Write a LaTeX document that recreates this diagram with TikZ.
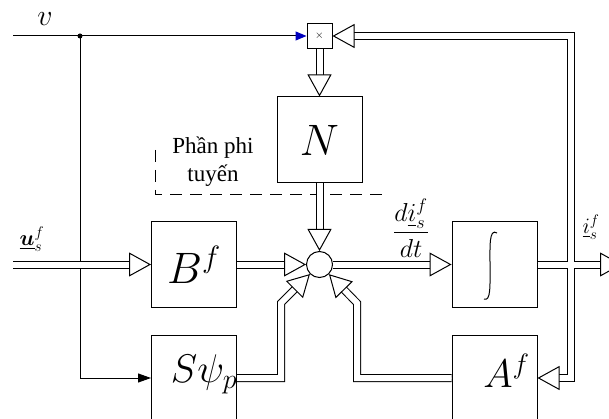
\RequirePackage{fix-cm}
\documentclass[tikz,border=0pt]{standalone}
\usepackage{amsmath}
\usepackage{bm}
\usepackage{fontspec}
\setmainfont{Liberation Serif}
\usepackage{tikz}
\usetikzlibrary{arrows.meta, positioning}

\tikzset{
  blk/.style={draw, minimum width=85pt, minimum height=86pt, inner sep=0pt, font=\fontsize{44}{44}\selectfont},
  blktxt/.style={font=\fontsize{40}{40}\selectfont},
  sumj/.style={draw, circle, minimum size=26pt, inner sep=0pt},
  shaft/.style={double, double distance=6pt, shorten >=20pt},
  head/.style={white, -{Triangle[length=22pt, width=24pt, color=black, fill=white]}},
  dout/.style={line width=8pt, black},
  din/.style={line width=6pt, white},
}
\newcommand{\dbl}[1]{\draw[shaft] #1; \draw[head] #1;}

\begin{document}
\begin{tikzpicture}[x=1pt, y=-1pt, line width=1pt]
    \useasboundingbox (0,0) rectangle (609,419);

    % Blocks
    \node[draw, minimum size=25pt, inner sep=0pt, font=\fontsize{11}{11}\selectfont] (mult) at (319.5,36) {$\times$};
    \node[blk] (N) at (319.5,140) {$N$};
    \node[blk] (B) at (194,264.5) {$B^f$};
    \node[blk, label={[blktxt, xshift=10pt, yshift=4pt]center:$S\psi_p$}] (Sp) at (194,378) {};
    \node[blk] (integ) at (494.5,264.5) {};
    \node[blk, label={[blktxt, xshift=12pt, yshift=7pt]center:$A^f$}] (A) at (494.5,378) {};
    \node[sumj] (sum) at (319.5,264.5) {};

    % Integral sign
    \draw (497,233) .. controls (489,228) and (490,246) .. (490,265)
          .. controls (490,285) and (491,302) .. (484,299);

    % Nonlinear part
    \draw[dash pattern=on 12pt off 8pt] (155,150) -- (155,195) -- (383,195);
    \node[align=center, font=\fontsize{23}{28}\selectfont] (nl) at (213,162) {Phần phi\\tuyến};

    % Labels
    \node[inner sep=0pt, font=\fontsize{30}{30}\selectfont] (v) at (45,19) {$v$};
    \node[inner sep=1pt, font=\fontsize{22}{22}\selectfont] (u) at (32,239) {$\underline{\bm{u}}_s^f$};
    \node[font=\fontsize{22}{22}\selectfont] (i) at (591,227) {$\underline{i}_s^f$};
    \node[font=\fontsize{26}{26}\selectfont] (didt) at (411,228) {$\dfrac{d\underline{i}_s^f}{dt}$};

    % Points
    \coordinate (vin) at (13,36);
    \coordinate (vs) at (80,36);
    \coordinate (uin) at (13,264.5);
    \coordinate (out) at (622,264.5);
    \coordinate (fbt) at (571,36);
    \coordinate (fbb) at (571,378);
    \coordinate (spc) at (281,303);
    \coordinate (apc) at (357,303);

    % Speed signal
    \draw[-{Triangle[length=11pt, width=9pt, color=blue!75!black]}] (vin) -- (mult.west);
    \fill (vs) circle (2.5pt);
    \draw[-{Triangle[length=13pt, width=9pt]}] (vs) |- (Sp.west);

    % Vector signals
    \dbl{(uin) -- (B.west)}
    \dbl{(mult.south) -- (N.north)}
    \dbl{(N.south) -- (sum)}
    \dbl{(B.east) -- (sum)}
    \dbl{(sum) -- (integ.west)}
    \dbl{(Sp.east) -| (spc) -- (sum)}
    \dbl{(A.west) -| (apc) -- (sum)}

    % Feedback of the current
    \draw[dout, shorten <=20pt, shorten >=20pt] (mult.east) -- (fbt) -- (fbb) -- (A.east);
    \draw[dout, shorten >=20pt] (integ.east) -- (out);
    \draw[din, shorten <=20pt, shorten >=20pt] (mult.east) -- (fbt) -- (fbb) -- (A.east);
    \draw[din, shorten >=20pt] (integ.east) -- (out);
    \draw[head] (fbt) -- (mult.east);
    \draw[head] (fbb) -- (A.east);
    \draw[head] (integ.east) -- (out);
\end{tikzpicture}
\end{document}
